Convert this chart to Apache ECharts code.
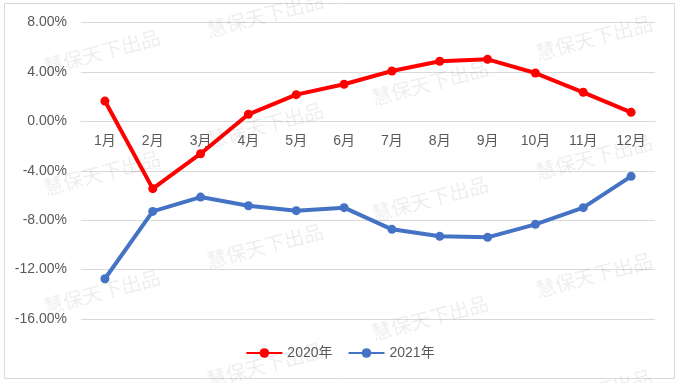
<!DOCTYPE html>
<html>
<head>
<meta charset="utf-8">
<script src="https://cdn.jsdelivr.net/npm/echarts@6/dist/echarts.min.js"></script>
<style>
html,body{margin:0;padding:0;background:#fff;}
#c{width:680px;height:383px;}
</style>
</head>
<body>
<div id="c"></div>
<script>
const categories = ['1月','2月','3月','4月','5月','6月','7月','8月','9月','10月','11月','12月'];
const seriesNames = ['2020年','2021年'];
const values2020 = [1.64, -5.45, -2.62, 0.57, 2.16, 3.0, 4.07, 4.86, 5.02, 3.91, 2.35, 0.73];
const values2021 = [-12.74, -7.29, -6.13, -6.83, -7.23, -6.99, -8.74, -9.31, -9.39, -8.34, -6.99, -4.45];
const yMin = -16, yMax = 8, yStep = 4;
const watermarkText = '慧保天下出品';

const FONT = '"Liberation Sans", "Noto Sans CJK SC", sans-serif';
const W = 680, H = 383, GT = 22.5, GB = 64;
const gridH = H - GT - GB;
const zeroOffset = -gridH * (0 - yMin) / (yMax - yMin);

const wmSpots = [
  [102,52],[102,173],[102,292],
  [265,15],[265,125],[265,246],[265,365],
  [430,83],[430,199],[430,318],
  [594,38],[594,157],[594,275],[594,392]
];
const graphics = [{
  type:'rect', shape:{x:4.5,y:3.5,width:670,height:375},
  style:{fill:'none',stroke:'#d9d9d9',lineWidth:1}, z:0, silent:true
}];
wmSpots.forEach(p => graphics.push({
  type:'text', x:p[0], y:p[1], rotation:0.26, z:100, silent:true,
  style:{text:watermarkText, font:'20px "Noto Sans CJK SC", sans-serif',
         fill:'rgba(0,0,0,0.07)', align:'center', verticalAlign:'middle'}
}));

const chart = echarts.init(document.getElementById('c'), null, {renderer:'canvas'});
chart.setOption({
  animation:false,
  backgroundColor:'#ffffff',
  graphic: graphics,
  grid:{left:81, right:25, top:GT, bottom:GB, containLabel:false},
  legend:{
    data: seriesNames, bottom:18, left:'center',
    itemWidth:36, itemHeight:12, itemGap:15,
    textStyle:{fontFamily:FONT, fontSize:14, color:'#595959'}
  },
  xAxis:{
    type:'category', data:categories, boundaryGap:true,
    position:'bottom', offset: zeroOffset,
    axisLine:{show:true, onZero:false, lineStyle:{color:'#d9d9d9'}},
    axisTick:{show:false},
    axisLabel:{fontFamily:FONT, fontSize:14, color:'#595959', margin:13}
  },
  yAxis:{
    type:'value', min:yMin, max:yMax, interval:yStep,
    axisLine:{show:false}, axisTick:{show:false},
    splitLine:{lineStyle:{color:'#d9d9d9'}},
    axisLabel:{fontFamily:FONT, fontSize:14, color:'#595959', margin:14,
      formatter: v => v.toFixed(2) + '%'}
  },
  series:[
    {name:seriesNames[0], type:'line', data:values2020, symbol:'circle', symbolSize:9,
     itemStyle:{color:'#ff0000'}, lineStyle:{color:'#ff0000', width:4}, z:3},
    {name:seriesNames[1], type:'line', data:values2021, symbol:'circle', symbolSize:9,
     itemStyle:{color:'#4472c4'}, lineStyle:{color:'#4472c4', width:4}, z:2}
  ]
});
</script>
</body>
</html>
